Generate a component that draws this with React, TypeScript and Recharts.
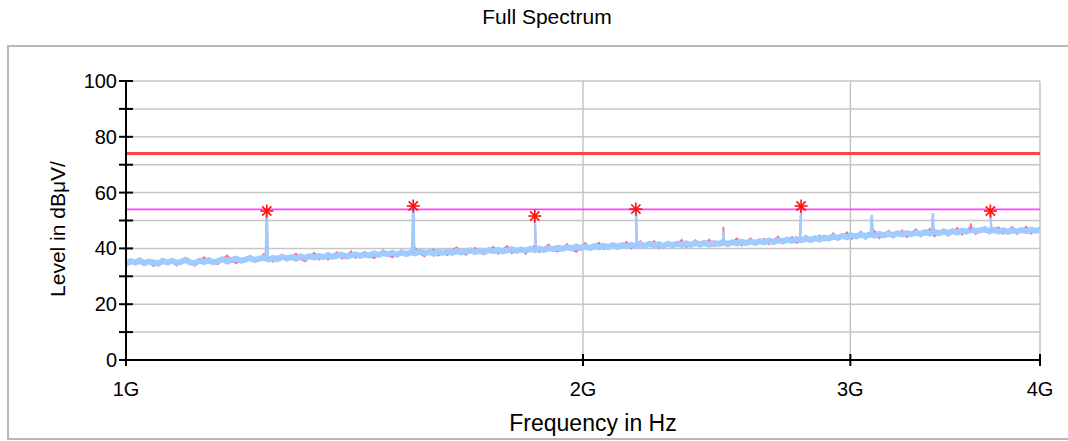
// Full Spectrum — EMI scan, 1 GHz to 4 GHz (recharts)

import {
  ComposedChart, Line, Scatter, XAxis, YAxis, CartesianGrid, ReferenceLine,
} from 'recharts';

const FONT = '"Liberation Sans", Arial, sans-serif';

// sweep: 200 points, log spaced from 1 GHz to 4 GHz
const SWEEP_START_HZ = 1e9;
const SWEEP_STOP_HZ = 4e9;

// average trace (light blue)
const BLUE_LEVELS = [
  34.6, 35.4, 34.9, 35.6, 34.7, 35.3, 35.0, 34.5, 35.5, 34.9,
  35.6, 34.8, 35.2, 35.9, 35.0, 34.7, 35.6, 35.1, 35.8, 35.0,
  35.4, 36.1, 35.3, 35.9, 36.3, 35.6, 36.0, 36.5, 35.8, 36.3,
  36.7, 36.0, 36.6, 36.2, 37.0, 36.4, 36.9, 36.3, 37.1, 36.6,
  37.2, 36.7, 37.3, 36.9, 37.6, 37.0, 37.4, 37.8, 37.1, 37.5,
  37.9, 37.3, 37.8, 37.5, 38.2, 37.7, 38.3, 37.9, 38.4, 37.8,
  38.5, 38.0, 38.6, 38.2, 38.9, 38.3, 38.7, 38.1, 38.8, 38.4,
  38.9, 38.4, 39.1, 38.6, 38.9, 39.3, 38.7, 39.2, 38.8, 39.4,
  39.0, 39.5, 38.9, 39.3, 39.7, 39.1, 39.6, 39.2, 39.8, 39.4,
  39.9, 39.4, 40.1, 39.7, 40.3, 39.8, 40.4, 40.0, 40.6, 40.2,
  40.6, 40.1, 40.8, 40.4, 40.9, 40.5, 41.1, 40.6, 41.2, 40.8,
  41.3, 40.8, 41.4, 41.0, 41.6, 41.1, 41.5, 40.9, 41.6, 41.2,
  41.7, 41.2, 41.8, 41.3, 41.9, 41.5, 42.0, 41.4, 41.9, 41.6,
  42.1, 41.6, 42.2, 41.8, 42.4, 41.9, 42.5, 42.0, 42.6, 42.2,
  42.8, 42.3, 42.9, 42.5, 43.1, 42.7, 43.3, 42.9, 43.5, 43.1,
  43.7, 43.2, 43.9, 43.6, 44.2, 43.8, 44.5, 44.0, 44.7, 44.3,
  44.9, 44.4, 45.0, 44.6, 45.2, 44.7, 45.3, 44.8, 45.4, 45.0,
  45.5, 45.0, 45.6, 45.2, 45.8, 45.3, 45.9, 45.4, 46.0, 45.6,
  46.2, 45.7, 46.4, 46.0, 46.7, 46.2, 46.5, 46.8, 46.1, 46.6,
  46.0, 46.5, 45.9, 46.4, 46.1, 46.6, 46.2, 46.7, 46.3, 46.5,
];

// peak trace (pink)
const PINK_LEVELS = [
  33.6, 35.3, 34.9, 36.4, 34.2, 35.0, 33.7, 35.4, 36.2, 34.6,
  35.1, 33.9, 35.6, 36.6, 35.2, 33.8, 35.4, 36.8, 34.9, 35.3,
  34.4, 36.0, 37.4, 35.6, 34.7, 36.2, 35.8, 37.3, 35.1, 36.0,
  37.9, 36.5, 35.2, 36.8, 37.7, 35.7, 36.6, 38.1, 36.2, 35.4,
  37.0, 38.4, 36.1, 37.3, 36.0, 37.5, 38.6, 36.4, 37.2, 38.9,
  36.6, 37.9, 38.7, 37.2, 36.5, 38.0, 39.3, 37.6, 36.8, 38.2,
  39.4, 37.3, 38.6, 40.0, 38.1, 37.2, 38.7, 39.6, 37.5, 38.4,
  37.6, 39.2, 40.3, 38.8, 37.7, 39.0, 40.1, 38.5, 37.9, 39.3,
  40.5, 38.2, 39.6, 40.8, 38.3, 39.4, 40.2, 38.1, 39.7, 41.0,
  38.7, 40.0, 41.3, 39.2, 38.9, 40.2, 41.5, 39.6, 38.8, 40.3,
  41.9, 39.6, 40.8, 42.0, 39.8, 40.7, 41.8, 39.9, 40.6, 42.3,
  40.0, 41.3, 42.5, 40.4, 41.1, 42.6, 40.2, 41.4, 42.4, 40.6,
  41.6, 43.0, 40.5, 41.8, 42.9, 40.7, 41.5, 43.1, 40.9, 41.7,
  43.2, 40.9, 42.0, 43.5, 41.1, 42.3, 43.6, 41.2, 42.1, 43.4,
  41.5, 42.9, 44.2, 41.8, 42.7, 44.0, 42.0, 43.1, 44.5, 42.4,
  43.0, 44.6, 42.9, 44.0, 45.4, 43.2, 44.3, 45.7, 43.4, 44.5,
  46.0, 43.5, 44.9, 46.2, 43.7, 45.0, 46.3, 43.9, 44.8, 46.4,
  44.1, 45.5, 46.8, 44.3, 45.6, 46.9, 44.4, 45.3, 46.7, 44.6,
  45.7, 47.3, 45.0, 46.4, 47.9, 45.2, 46.6, 47.6, 45.4, 46.8,
  47.5, 45.3, 46.4, 47.6, 45.2, 46.5, 47.7, 45.4, 46.3, 47.4,
];

// narrow spurs on top of the noise floor
const SPIKE_FREQ_GHZ = [1.238, 1.546, 1.859, 2.167, 2.474, 2.784, 3.099, 3.40, 3.603, 3.71];
const SPIKE_BASE = [36.5, 38.5, 39.4, 41.2, 41.8, 43.0, 44.8, 45.6, 46.0, 46.4];
const SPIKE_BLUE = [53.4, 55.2, 51.6, 54.1, 46.0, 52.5, 52.0, 52.7, 46.5, 53.0];
const SPIKE_PINK = [53.4, 55.2, 51.6, 54.1, 47.7, 55.2, 51.0, 47.5, 49.0, 53.4];

// final measurement markers (red asterisks)
const MARKER_FREQ_GHZ = [1.238, 1.546, 1.859, 2.167, 2.784, 3.71];
const MARKER_LEVEL = [53.4, 55.2, 51.6, 54.1, 55.2, 53.4];

const LIMIT_QP = 74;
const LIMIT_AV = 54;

const Y_TICKS = [0, 10, 20, 30, 40, 50, 60, 70, 80, 90, 100];
const X_TICKS = [1e9, 2e9, 3e9, 4e9];

const PLOT_LEFT = 126;
const PLOT_BOTTOM = 360;

const sweep = BLUE_LEVELS.map((blue, i) => ({
  f: SWEEP_START_HZ * Math.pow(SWEEP_STOP_HZ / SWEEP_START_HZ, i / (BLUE_LEVELS.length - 1)),
  blue,
  pink: PINK_LEVELS[i],
}));

const spurs = SPIKE_FREQ_GHZ.flatMap((g, i) => {
  const f = g * 1e9;
  return [
    { f: f / 1.0015, blueSpike: SPIKE_BASE[i], pinkSpike: SPIKE_BASE[i] },
    { f, blueSpike: SPIKE_BLUE[i], pinkSpike: SPIKE_PINK[i] },
    { f: f * 1.0015, blueSpike: SPIKE_BASE[i], pinkSpike: SPIKE_BASE[i] },
  ];
});

const traceData = [...sweep, ...spurs].sort((a, b) => a.f - b.f);
const markerData = MARKER_FREQ_GHZ.map((g, i) => ({ f: g * 1e9, level: MARKER_LEVEL[i] }));

function YTick({ y, payload }: any) {
  const v = payload.value;
  return (
    <g>
      <line x1={PLOT_LEFT - 7} x2={PLOT_LEFT + 7} y1={y} y2={y} stroke="#000" strokeWidth={2} />
      {v % 20 === 0 && (
        <text x={PLOT_LEFT - 9} y={y} textAnchor="end" dominantBaseline="central"
          fontSize={20} fontFamily={FONT} fill="#000">
          {v}
        </text>
      )}
    </g>
  );
}

function XTick({ x, payload }: any) {
  return (
    <g>
      <line x1={x} x2={x} y1={PLOT_BOTTOM - 6} y2={PLOT_BOTTOM + 6} stroke="#000" strokeWidth={2} />
      <text x={x} y={PLOT_BOTTOM + 36} textAnchor="middle" fontSize={20} fontFamily={FONT} fill="#000">
        {`${payload.value / 1e9}G`}
      </text>
    </g>
  );
}

function Asterisk({ cx, cy }: any) {
  const r = 6.5;
  const d = 4.6;
  return (
    <g stroke="#ff1010" strokeWidth={1.6}>
      <line x1={cx} x2={cx} y1={cy - r} y2={cy + r} />
      <line x1={cx - r} x2={cx + r} y1={cy} y2={cy} />
      <line x1={cx - d} x2={cx + d} y1={cy - d} y2={cy + d} />
      <line x1={cx - d} x2={cx + d} y1={cy + d} y2={cy - d} />
    </g>
  );
}

export default function App() {
  return (
    <div style={{ position: 'absolute', left: 0, top: 0, width: 1068, height: 441, overflow: 'hidden', background: '#fff', fontFamily: FONT }}>
      <div style={{ position: 'absolute', left: 7, top: 45, width: 1080, height: 391, border: '2px solid #b8b8b8' }} />
      <div style={{ position: 'absolute', left: 0, width: 1094, top: 5, textAlign: 'center', fontSize: 21, color: '#000' }}>
        Full Spectrum
      </div>
      <div style={{
        position: 'absolute', left: 58, top: 229, transform: 'translate(-50%, -50%) rotate(-90deg)',
        whiteSpace: 'nowrap', fontSize: 21, color: '#000',
      }}>
        Level in dBμV/
      </div>
      <div style={{ position: 'absolute', left: 0, width: 1186, top: 410, textAlign: 'center', fontSize: 23, color: '#000' }}>
        Frequency in Hz
      </div>
      <div style={{ position: 'absolute', left: 0, top: 0 }}>
        <ComposedChart width={1068} height={441} data={traceData}
          margin={{ top: 81, right: 28, left: 0, bottom: 41 }}>
          <CartesianGrid stroke="#c6c6c6" strokeWidth={1.5} horizontalValues={Y_TICKS} verticalValues={X_TICKS} />
          <XAxis dataKey="f" type="number" scale="log" domain={[SWEEP_START_HZ, SWEEP_STOP_HZ]}
            ticks={X_TICKS} allowDataOverflow height={40} interval={0}
            axisLine={{ stroke: '#000', strokeWidth: 2 }} tickLine={false} tick={<XTick />} />
          <YAxis type="number" domain={[0, 100]} ticks={Y_TICKS} width={126} interval={0}
            axisLine={{ stroke: '#000', strokeWidth: 2 }} tickLine={false} tick={<YTick />} />
          <Line dataKey="pink" stroke="#ff6b9a" strokeWidth={2} dot={false} activeDot={false}
            connectNulls isAnimationActive={false} type="linear" />
          <Line dataKey="blue" stroke="#9fcbff" strokeWidth={6} dot={false} activeDot={false}
            connectNulls isAnimationActive={false} type="linear" />
          <Line dataKey="pinkSpike" stroke="#ff6b9a" strokeWidth={2} dot={false} activeDot={false}
            isAnimationActive={false} type="linear" />
          <Line dataKey="blueSpike" stroke="#9fcbff" strokeWidth={2.5} dot={false} activeDot={false}
            isAnimationActive={false} type="linear" />
          <ReferenceLine y={LIMIT_QP} stroke="#ff4545" strokeWidth={3} />
          <ReferenceLine y={LIMIT_AV} stroke="#ff44ff" strokeWidth={1.6} />
          <Scatter data={markerData} dataKey="level" shape={<Asterisk />} isAnimationActive={false} />
        </ComposedChart>
      </div>
    </div>
  );
}
